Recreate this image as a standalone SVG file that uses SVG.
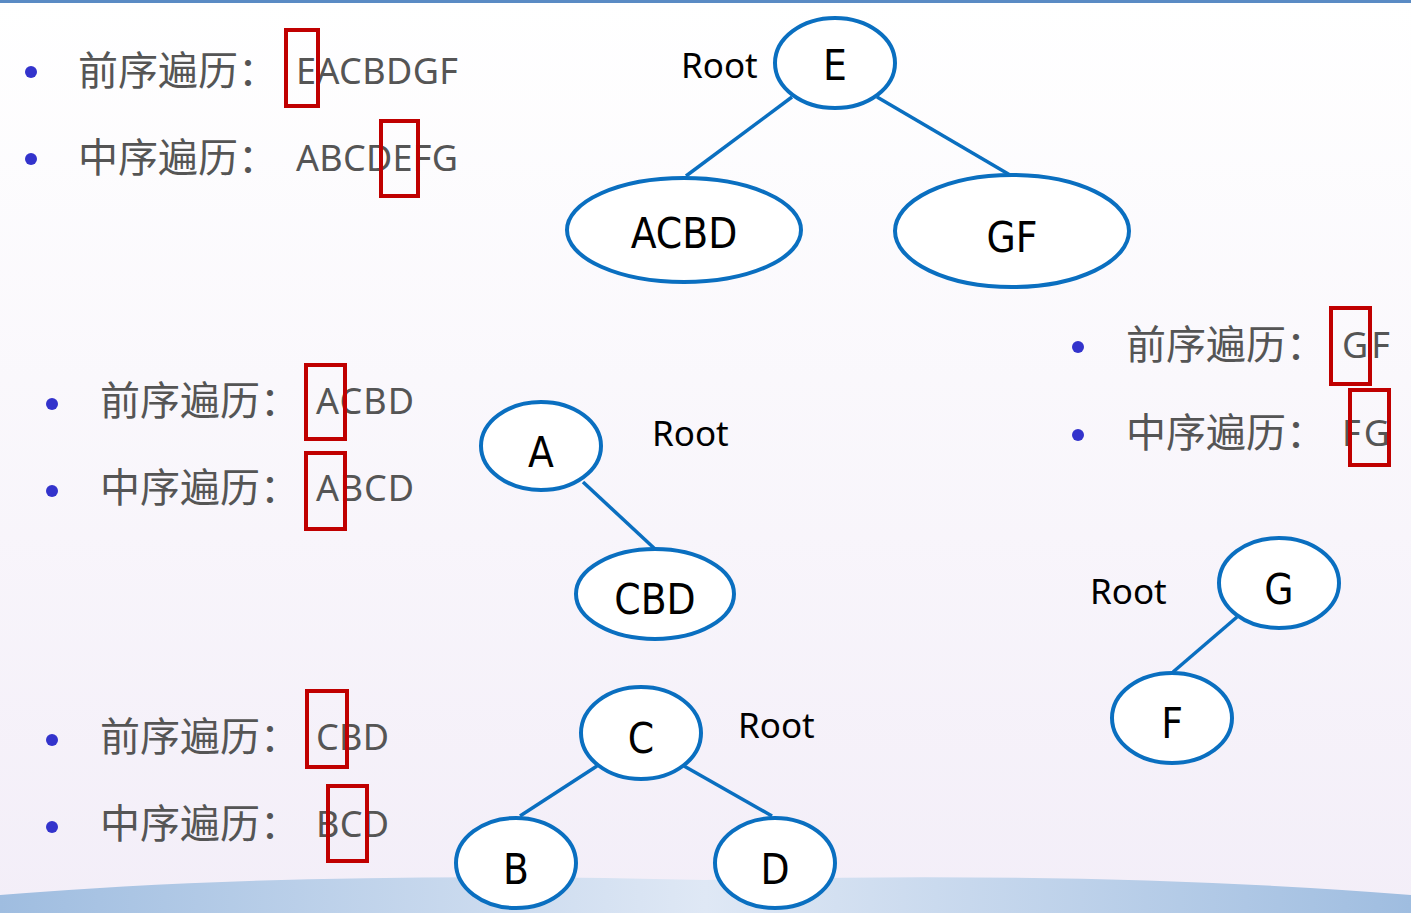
<svg xmlns="http://www.w3.org/2000/svg" width="1411" height="913" viewBox="0 0 1411 913">
<defs>
<linearGradient id="bg" x1="0" y1="0" x2="0" y2="1"><stop offset="0" stop-color="#ffffff"/><stop offset="1" stop-color="#f3eef8"/></linearGradient>
<linearGradient id="wave" x1="0" y1="0" x2="1" y2="0"><stop offset="0" stop-color="#9fbde0"/><stop offset="0.5" stop-color="#dfe8f5"/><stop offset="1" stop-color="#9fbde0"/></linearGradient>
<style>
.n ellipse{fill:#fff;stroke:#0a6fc0;stroke-width:4}
.n text{font-family:"DejaVu Sans Condensed","DejaVu Sans",sans-serif;font-size:42px;fill:#000;text-anchor:middle}
.c line{stroke:#0a6fc0;stroke-width:3.5}
.root{font-family:"Noto Sans","Liberation Sans",sans-serif;font-size:35px;fill:#000}
.cn{font-family:"Noto Sans CJK SC",sans-serif;font-size:40px;fill:#555}
.lt{font-family:"Noto Sans","Liberation Sans",sans-serif;font-size:36px;fill:#555}
.b{fill:#3333cc}
.box{fill:none;stroke:#c00000;stroke-width:4}
</style>
</defs>
<rect width="1411" height="913" fill="url(#bg)"/>
<rect width="1411" height="3" fill="#5a8bc4"/>
<path d="M0 913 L0 895 Q300 870 705 880 Q1100 870 1411 895 L1411 913 Z" fill="url(#wave)"/>

<g class="c">
<line x1="792" y1="97" x2="686" y2="176"/>
<line x1="877" y1="97" x2="1010" y2="175"/>
<line x1="583" y1="482" x2="655" y2="549"/>
<line x1="1237" y1="617" x2="1173" y2="672"/>
<line x1="597" y1="766" x2="520" y2="816"/>
<line x1="684" y1="766" x2="772" y2="816"/>
</g>

<g id="E" class="n"><ellipse cx="835" cy="63" rx="60" ry="45"/><text x="835" y="80">E</text></g>
<g id="ACBD" class="n"><ellipse cx="684" cy="230" rx="117" ry="52"/><text x="684" y="248">ACBD</text></g>
<g id="GF" class="n"><ellipse cx="1012" cy="231" rx="117" ry="56"/><text x="1012" y="252">GF</text></g>
<g id="A" class="n"><ellipse cx="541" cy="446" rx="60" ry="44"/><text x="541" y="467">A</text></g>
<g id="CBD" class="n"><ellipse cx="655" cy="594" rx="79" ry="45"/><text x="655" y="614">CBD</text></g>
<g id="G" class="n"><ellipse cx="1279" cy="583" rx="60" ry="45"/><text x="1279" y="604">G</text></g>
<g id="F" class="n"><ellipse cx="1172" cy="718" rx="60" ry="45"/><text x="1172" y="738">F</text></g>
<g id="C" class="n"><ellipse cx="641" cy="733" rx="60" ry="46"/><text x="641" y="753">C</text></g>
<g id="B" class="n"><ellipse cx="516" cy="863" rx="60" ry="45"/><text x="516" y="884">B</text></g>
<g id="D" class="n"><ellipse cx="775" cy="863" rx="60" ry="45"/><text x="775" y="884">D</text></g>

<g id="roots">
<text class="root" x="681" y="78">Root</text>
<text class="root" x="652" y="446">Root</text>
<text class="root" x="1090" y="604">Root</text>
<text class="root" x="738" y="738">Root</text>
</g>

<g id="list1">
<circle class="b" cx="31" cy="72" r="6"/><circle class="b" cx="31" cy="159" r="6"/>
<text class="cn" x="78" y="85">前序遍历：</text><text class="lt" x="296" y="84" textLength="162">EACBDGF</text>
<text class="cn" x="78" y="172">中序遍历：</text><text class="lt" x="296" y="171" textLength="162">ABCDEFG</text>
<rect class="box" x="286" y="30" width="32" height="76"/><rect class="box" x="381" y="121" width="37" height="75"/>
</g>
<g id="list2">
<circle class="b" cx="52" cy="404" r="6"/><circle class="b" cx="52" cy="491" r="6"/>
<text class="cn" x="100" y="415">前序遍历：</text><text class="lt" x="316" y="414" textLength="98">ACBD</text>
<text class="cn" x="100" y="502">中序遍历：</text><text class="lt" x="316" y="501" textLength="98">ABCD</text>
<rect class="box" x="306" y="365" width="39" height="74"/><rect class="box" x="306" y="453" width="39" height="76"/>
</g>
<g id="list3">
<circle class="b" cx="52" cy="740" r="6"/><circle class="b" cx="52" cy="827" r="6"/>
<text class="cn" x="100" y="751">前序遍历：</text><text class="lt" x="316" y="750" textLength="73">CBD</text>
<text class="cn" x="100" y="838">中序遍历：</text><text class="lt" x="316" y="837" textLength="73">BCD</text>
<rect class="box" x="307" y="691" width="40" height="76"/><rect class="box" x="328" y="786" width="39" height="75"/>
</g>
<g id="list4">
<circle class="b" cx="1078" cy="347" r="6"/><circle class="b" cx="1078" cy="435" r="6"/>
<text class="cn" x="1126" y="359">前序遍历：</text><text class="lt" x="1342" y="358" textLength="48">GF</text>
<text class="cn" x="1126" y="447">中序遍历：</text><text class="lt" x="1342" y="446" textLength="48">FG</text>
<rect class="box" x="1331" y="308" width="39" height="76"/><rect class="box" x="1350" y="390" width="39" height="75"/>
</g>
</svg>
